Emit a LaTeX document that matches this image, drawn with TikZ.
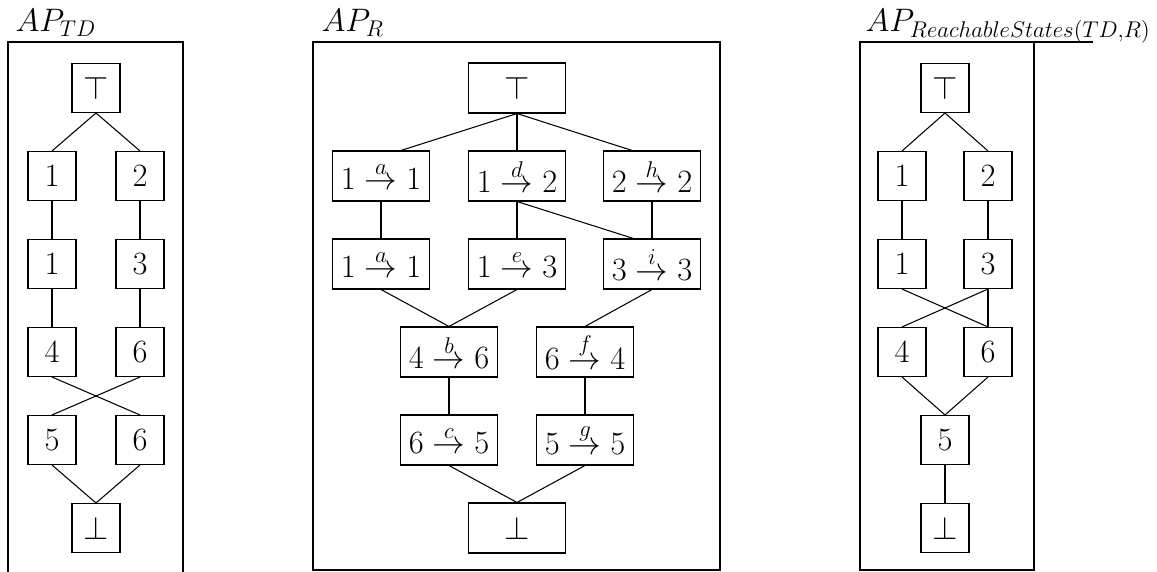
\documentclass[tikz,border=0pt]{standalone}
\usepackage{fix-cm}
\usetikzlibrary{positioning}

\begin{document}
\begin{tikzpicture}[font=\fontsize{18.5}{22}\selectfont, line width=0.6pt, on grid, node distance=1.76cm,
  sq/.style={draw, minimum width=0.96cm, minimum height=0.98cm, inner sep=0pt},
  tr/.style={draw, minimum width=1.94cm, minimum height=1cm, inner sep=0pt},
  title/.style={anchor=base west, inner sep=0pt}]

\useasboundingbox (0,0) rectangle (23.14,-11.44);

% frames and titles
\draw (0.16,-11.44) -- (0.16,-0.84) -- (3.66,-0.84) -- (3.66,-11.44);
\draw (6.26,-0.84) rectangle (14.40,-11.40);
\draw (17.20,-11.40) -- (17.20,-0.84) -- (20.68,-0.84) -- (20.68,-11.40) -- cycle;
\draw[line width=0.9pt] (17.24,-0.84) -- (21.86,-0.84);

\node[title] (n1) at (0.30,-0.64) {$AP_{TD}$};
\node[title] (n2) at (6.42,-0.64) {$AP_{R}$};
\node[title] (n3) at (17.30,-0.64) {$AP_{ReachableStates(TD,R)}$};

% AP_TD
\node[sq] (t1) at (1.92,-1.76) {$\top$};
\node[sq, below left = 1.76cm and 0.88cm of t1] (a1) {$1$};
\node[sq, below right = 1.76cm and 0.88cm of t1] (b1) {$2$};
\node[sq, below = of a1] (a2) {$1$};
\node[sq, below = of b1] (b2) {$3$};
\node[sq, below = of a2] (a3) {$4$};
\node[sq, below = of b2] (b3) {$6$};
\node[sq, below = of a3] (a4) {$5$};
\node[sq, below = of b3] (b4) {$6$};
\node[sq, below = 8.80cm of t1] (f1) {$\bot$};

\draw (t1.south) -- (a1.north);
\draw (t1.south) -- (b1.north);
\draw (a1) -- (a2);
\draw (b1) -- (b2);
\draw (a2) -- (a3);
\draw (b2) -- (b3);
\draw (a3.south) -- (b4.north);
\draw (b3.south) -- (a4.north);
\draw (a4.south) -- (f1.north);
\draw (b4.south) -- (f1.north);

% AP_R
\node[tr] (t2) at (10.34,-1.76) {$\top$};
\node[tr, below left = 1.76cm and 2.72cm of t2] (ra) {$1 \stackrel{a}{\rightarrow} 1$};
\node[tr, below = of t2] (rd) {$1 \stackrel{d}{\rightarrow} 2$};
\node[tr, below right = 1.76cm and 2.70cm of t2] (rh) {$2 \stackrel{h}{\rightarrow} 2$};
\node[tr, below = of ra] (ra2) {$1 \stackrel{a}{\rightarrow} 1$};
\node[tr, below = of rd] (re) {$1 \stackrel{e}{\rightarrow} 3$};
\node[tr, below = of rh] (ri) {$3 \stackrel{i}{\rightarrow} 3$};
\node[tr, below left = 5.28cm and 1.36cm of t2] (rb) {$4 \stackrel{b}{\rightarrow} 6$};
\node[tr, below right = 5.28cm and 1.36cm of t2] (rf) {$6 \stackrel{f}{\rightarrow} 4$};
\node[tr, below = of rb] (rc) {$6 \stackrel{c}{\rightarrow} 5$};
\node[tr, below = of rf] (rg) {$5 \stackrel{g}{\rightarrow} 5$};
\node[tr, below = 8.80cm of t2] (f2) {$\bot$};

\draw (t2.south) -- (ra.52);
\draw (t2.south) -- (rd.north);
\draw (t2.south) -- (rh.128);
\draw (ra) -- (ra2);
\draw (rd) -- (re);
\draw (rh) -- (ri);
\draw (rd.south) -- (ri.126);
\draw (ra2.south) -- (rb.north);
\draw (re.south) -- (rb.north);
\draw (ri.south) -- (rf.north);
\draw (rb) -- (rc);
\draw (rf) -- (rg);
\draw (rc.south) -- (f2.north);
\draw (rg.south) -- (f2.north);

% AP_ReachableStates(TD,R)
\node[sq] (t3) at (18.90,-1.76) {$\top$};
\node[sq, below left = 1.76cm and 0.86cm of t3] (c1) {$1$};
\node[sq, below right = 1.76cm and 0.86cm of t3] (d1) {$2$};
\node[sq, below = of c1] (c2) {$1$};
\node[sq, below = of d1] (d2) {$3$};
\node[sq, below = of c2] (c3) {$4$};
\node[sq, below = of d2] (d3) {$6$};
\node[sq, below = 7.04cm of t3] (s5) {$5$};
\node[sq, below = of s5] (f3) {$\bot$};

\draw (t3.south) -- (c1.north);
\draw (t3.south) -- (d1.north);
\draw (c1) -- (c2);
\draw (d1) -- (d2);
\draw (c2.south) -- (d3.north);
\draw (d2.south) -- (c3.north);
\draw (d2) -- (d3);
\draw (c3.south) -- (s5.north);
\draw (d3.south) -- (s5.north);
\draw (s5) -- (f3);

\end{tikzpicture}
\end{document}
